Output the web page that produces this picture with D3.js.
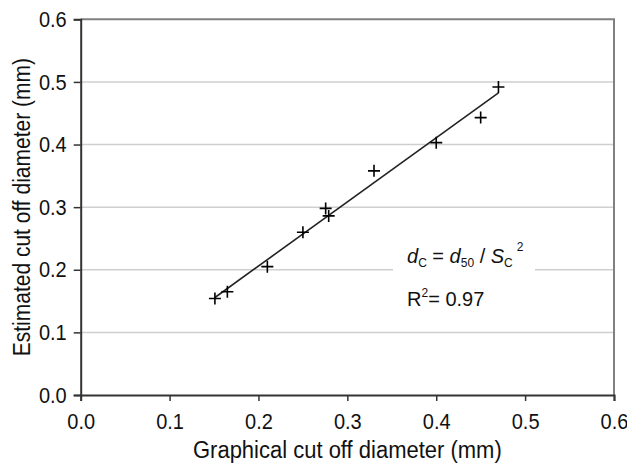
<!DOCTYPE html>
<html>
<head>
<meta charset="utf-8">
<script src="https://cdn.jsdelivr.net/npm/d3@7"></script>
<style>
  body { margin: 0; background: #fff; }
  svg text { font-family: "Liberation Sans", Arial, sans-serif; fill: #111; }
</style>
</head>
<body>
<div id="chart"></div>
<script>
// graphical vs estimated cut off diameter (mm)
const graphical = [0.151, 0.165, 0.210, 0.250, 0.2756, 0.279, 0.330, 0.400, 0.450, 0.470]
const estimated = [0.154, 0.165, 0.205, 0.260, 0.298, 0.286, 0.358, 0.403, 0.443, 0.492]
const tickValues = [0, 0.1, 0.2, 0.3, 0.4, 0.5, 0.6]
const xTitle = 'Graphical cut off diameter (mm)'
const yTitle = 'Estimated cut off diameter (mm)'
const rSquared = '0.97'

let w = 627
let h = 465
let margin = {top: 19.3, right: 13, bottom: 70, left: 80.7}
let stretch = 'scale(1,1.12)' // the original glyphs look a bit taller than wide

let svg = d3.select('#chart')
    .append('svg')
    .attr('width', w)
    .attr('height', h)

let x = d3.scaleLinear().domain([0, 0.6]).range([margin.left, w - margin.right])
let y = d3.scaleLinear().domain([0, 0.6]).range([h - margin.bottom, margin.top])

// horizontal grid lines
svg.append('g')
    .selectAll('line')
    .data(tickValues.slice(1, -1))
    .enter()
    .append('line')
    .attr('x1', x(0))
    .attr('x2', x(0.6))
    .attr('y1', d => y(d))
    .attr('y2', d => y(d))
    .attr('stroke', '#cfcfcf')
    .attr('stroke-width', 1.5)

// frame: top and right in grey
svg.append('path')
    .attr('d', `M${x(0)},${y(0.6)} H${x(0.6)} V${y(0)}`)
    .attr('fill', 'none')
    .attr('stroke', '#808080')
    .attr('stroke-width', 2)

// axes
let xAxis = svg.append('g')
    .attr('transform', `translate(0,${y(0)})`)
    .call(d3.axisBottom(x).tickValues(tickValues).tickFormat(d3.format('.1f')).tickSize(6).tickPadding(10))

let yAxis = svg.append('g')
    .attr('transform', `translate(${x(0)},0)`)
    .call(d3.axisLeft(y).tickValues(tickValues).tickFormat(d3.format('.1f')).tickSize(7).tickPadding(7))

;[xAxis, yAxis].forEach(a =>
{
    a.select('.domain').attr('stroke', '#333').attr('stroke-width', 2)
    a.selectAll('.tick line').attr('stroke', '#333').attr('stroke-width', 1.5)
    a.selectAll('.tick text')
        .attr('fill', '#111')
        .attr('transform', stretch)
        .style('font-size', '20px')
        .style('font-family', '"Liberation Sans", Arial, sans-serif')
})

// axis titles
svg.append('text')
    .attr('transform', `translate(${(x(0) + x(0.6)) / 2},458) ${stretch}`)
    .attr('text-anchor', 'middle')
    .style('font-size', '22px')
    .text(xTitle)

svg.append('text')
    .attr('transform', `translate(30,${(y(0) + y(0.6)) / 2}) rotate(-90) ${stretch}`)
    .attr('text-anchor', 'middle')
    .style('font-size', '21px')
    .text(yTitle)

// least squares fit line
let mx = d3.mean(graphical)
let my = d3.mean(estimated)
let slope = d3.sum(graphical, (g, i) => (g - mx) * (estimated[i] - my)) / d3.sum(graphical, g => (g - mx) ** 2)
let icpt = my - slope * mx
let fitX = d3.extent(graphical)

svg.append('line')
    .attr('x1', x(fitX[0]))
    .attr('y1', y(icpt + slope * fitX[0]))
    .attr('x2', x(fitX[1]))
    .attr('y2', y(icpt + slope * fitX[1]))
    .attr('stroke', '#222')
    .attr('stroke-width', 1.6)

// plus markers
let pts = graphical.map((g, i) => [g, estimated[i]])
svg.append('g')
    .selectAll('path')
    .data(pts)
    .enter()
    .append('path')
    .attr('d', d => `M${x(d[0]) - 6},${y(d[1])} h12 M${x(d[0])},${y(d[1]) - 6} v12`)
    .attr('stroke', '#000')
    .attr('stroke-width', 1.6)

// equation box
svg.append('rect')
    .attr('x', 393)
    .attr('y', 236)
    .attr('width', 142)
    .attr('height', 80)
    .attr('fill', '#fff')

let eq = svg.append('text')
    .attr('x', 407)
    .attr('y', 263)
    .style('font-size', '20px')

eq.append('tspan').style('font-style', 'italic').text('d')
eq.append('tspan').attr('dy', 4).style('font-size', '12px').text('C')
eq.append('tspan').attr('dy', -4).text(' = ')
eq.append('tspan').style('font-style', 'italic').text('d')
eq.append('tspan').attr('dy', 4).style('font-size', '12px').text('50')
eq.append('tspan').attr('dy', -4).text(' / ')
eq.append('tspan').style('font-style', 'italic').text('S')
eq.append('tspan').attr('dy', 4).style('font-size', '12px').text('C')
eq.append('tspan').attr('dy', -16).attr('dx', 4).style('font-size', '12px').text('2')

let r2 = svg.append('text')
    .attr('x', 407)
    .attr('y', 306)
    .style('font-size', '20px')

r2.append('tspan').text('R')
r2.append('tspan').attr('dy', -9).style('font-size', '12px').text('2')
r2.append('tspan').attr('dy', 9).text('= ' + rSquared)
</script>
</body>
</html>
